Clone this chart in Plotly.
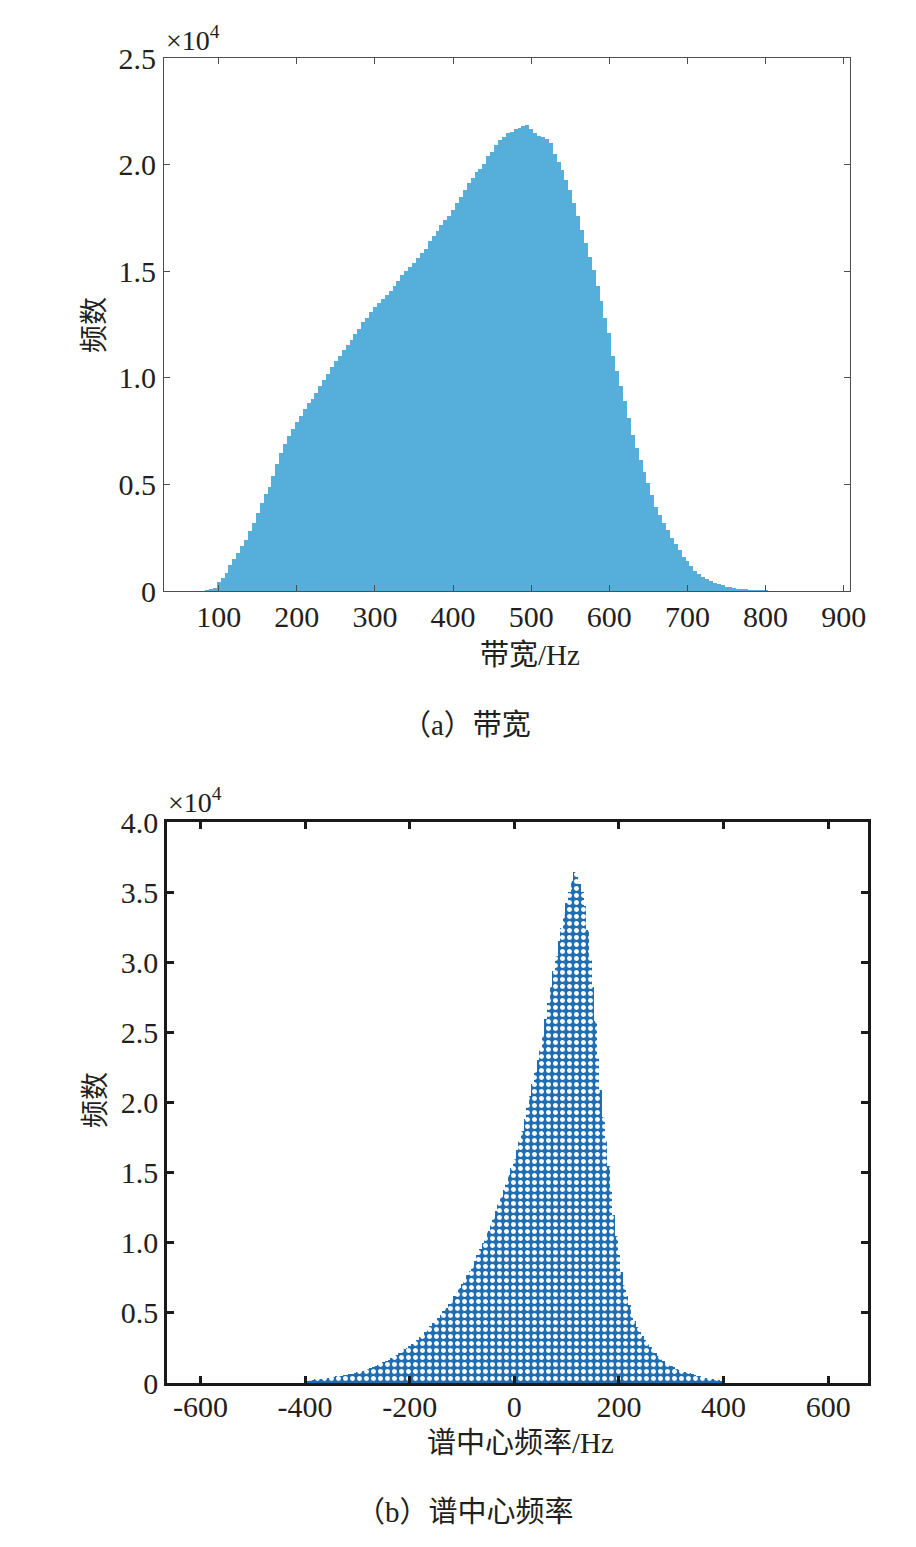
import plotly.graph_objects as go

W, H = 916, 1547
PAGE_PAD = 8  # the page body margin shifts the figure by this much

# (a) 带宽 histogram: bins of 5 Hz, first bin centred at 85 Hz
bw_first_center = 85
bw_bin_width = 5
bw_counts = [
    20, 60, 150, 400, 620, 860, 1200, 1500, 1800, 2100,
    2400, 2800, 3200, 3650, 4150, 4550, 4900, 5400, 5950, 6450,
    6900, 7250, 7600, 7950, 8200, 8550, 8800, 9000, 9300, 9600,
    9900, 10200, 10500, 10800, 11000, 11300, 11550, 11750, 12050, 12300,
    12600, 12800, 13100, 13300, 13500, 13700, 13900, 14050, 14300, 14550,
    14800, 15000, 15200, 15400, 15600, 15850, 16050, 16400, 16650, 16900,
    17150, 17400, 17600, 17850, 18200, 18500, 18800, 19150, 19350, 19650,
    19800, 20050, 20400, 20600, 20900, 21150, 21300, 21500, 21550, 21650,
    21700, 21800, 21850, 21650, 21500, 21350, 21300, 21200, 21000, 20500,
    20100, 19750, 19300, 18800, 18200, 17600, 16950, 16300, 15650, 15050,
    14300, 13600, 12800, 12100, 11000, 10300, 9600, 8900, 8100, 7300,
    6700, 6150, 5600, 5050, 4500, 3950, 3550, 3200, 2850, 2500,
    2200, 1900, 1600, 1400, 1150, 950, 800, 650, 560, 470,
    390, 330, 270, 210, 170, 140, 110, 80, 60, 40,
    30, 20, 10, 5,
]

# (b) 谱中心频率 histogram: bins of 5 Hz, first bin centred at -400 Hz
sc_first_center = -400
sc_bin_width = 5
sc_counts = [
    120, 160, 190, 230, 250, 280, 300, 330, 360, 390,
    410, 440, 470, 500, 530, 560, 590, 620, 660, 700,
    750, 800, 860, 920, 990, 1060, 1130, 1200, 1290, 1380,
    1470, 1560, 1670, 1780, 1900, 2020, 2150, 2280, 2400, 2520,
    2650, 2780, 2940, 3100, 3270, 3450, 3650, 3850, 4050, 4250,
    4450, 4650, 4870, 5100, 5370, 5650, 5920, 6200, 6470, 6750,
    7050, 7350, 7670, 8000, 8350, 8700, 9120, 9550, 9970, 10400,
    10850, 11300, 11770, 12250, 12750, 13250, 13770, 14300, 14820, 15350,
    15950, 16600, 17300, 18000, 18800, 19650, 20450, 21300, 22150, 23000,
    23900, 24800, 25950, 27100, 28250, 29400, 30450, 31500, 32450, 33400,
    34200, 35000, 35800, 36400, 36100, 35600, 35000, 34000, 32300, 30300,
    28200, 25800, 23200, 20900, 19000, 17300, 15500, 13700, 12000, 10500,
    9100, 7900, 7000, 6200, 5550, 4950, 4450, 4000, 3650, 3350,
    3050, 2800, 2570, 2350, 2150, 1950, 1770, 1600, 1450, 1320,
    1220, 1120, 1030, 950, 870, 800, 740, 680, 630, 580,
    530, 480, 430, 390, 350, 310, 270, 230, 190, 150,
]

bw_ticks = [100, 200, 300, 400, 500, 600, 700, 800, 900]
sc_ticks = [-600, -400, -200, 0, 200, 400, 600]
sc_ticklabels = ["-600", "-400", "-200", "0", "200", "400", "600"]
bw_yticks = [0, 5000, 10000, 15000, 20000, 25000]
bw_yticklabels = ["0", "0.5", "1.0", "1.5", "2.0", "2.5"]
sc_yticks = [0, 5000, 10000, 15000, 20000, 25000, 30000, 35000, 40000]
sc_yticklabels = ["0", "0.5", "1.0", "1.5", "2.0", "2.5", "3.0", "3.5", "4.0"]

bw_x = [bw_first_center + bw_bin_width * i for i in range(len(bw_counts))]
sc_x = [sc_first_center + sc_bin_width * i for i in range(len(sc_counts))]

FONT = "Liberation Serif, Times New Roman, Noto Sans CJK SC, serif"
TXT = "#231f20"


def px_x(px):
    return (px - PAGE_PAD) / W


def px_y(px):
    return 1 - (px - PAGE_PAD) / H


fig = go.Figure()
fig.add_trace(go.Bar(
    x=bw_x, y=bw_counts, width=bw_bin_width,
    marker=dict(color="#56aedb", line=dict(width=0)),
    xaxis="x", yaxis="y", showlegend=False,
))
fig.add_trace(go.Bar(
    x=sc_x, y=sc_counts, width=sc_bin_width,
    marker=dict(
        color="#1f6db3", line=dict(width=0),
        pattern=dict(shape=".", fgcolor="white", bgcolor="#1f6db3",
                     size=7, solidity=0.4, fillmode="replace"),
    ),
    xaxis="x2", yaxis="y2", showlegend=False,
))

thin = dict(showline=True, linecolor="#4d4d4d", linewidth=1, mirror="ticks",
            ticks="inside", ticklen=6, tickcolor="#4d4d4d", tickwidth=1,
            showgrid=False, zeroline=False, automargin=False,
            tickfont=dict(family=FONT, size=30, color=TXT))
thick = dict(showline=True, linecolor="#1a1a1a", linewidth=2.5, mirror="ticks",
             ticks="inside", ticklen=7, tickcolor="#1a1a1a", tickwidth=2.5,
             showgrid=False, zeroline=False, automargin=False,
             tickfont=dict(family=FONT, size=30, color=TXT))

fig.update_layout(
    width=W, height=H,
    margin=dict(l=0, r=0, t=0, b=0, autoexpand=False),
    paper_bgcolor="white", plot_bgcolor="white",
    bargap=0,
    xaxis=dict(thin, domain=[px_x(164), px_x(850)], range=[30, 908],
               tickvals=bw_ticks, anchor="y", ticklabelstandoff=-1),
    yaxis=dict(thin, domain=[px_y(591), px_y(58)], range=[0, 25000],
               tickvals=bw_yticks, ticktext=bw_yticklabels, anchor="x",
               ticklabelstandoff=1),
    xaxis2=dict(thick, domain=[px_x(167), px_x(868)], range=[-664, 676],
                tickvals=sc_ticks, ticktext=sc_ticklabels, anchor="y2",
                ticklabelstandoff=-5),
    yaxis2=dict(thick, domain=[px_y(1383), px_y(822)], range=[0, 40000],
                tickvals=sc_yticks, ticktext=sc_yticklabels, anchor="x2",
                ticklabelstandoff=0),
)

notes = [
    ("×10<sup>4</sup>", 193, 38, 28, 0),
    ("×10<sup>4</sup>", 195, 801, 28, 0),
    ("频数", 95, 325, 28, -90),
    ("频数", 95, 1100, 28, -90),
    ("带宽/Hz", 530, 655, 29, 0),
    ("谱中心频率/Hz", 520, 1443, 29, 0),
    ("（a）带宽", 466, 725, 29, 0),
    ("（b）谱中心频率", 465, 1512, 29, 0),
]
for text, x, y, size, angle in notes:
    fig.add_annotation(
        text=text, x=px_x(x), y=px_y(y), xref="paper", yref="paper",
        showarrow=False, textangle=angle, xanchor="center", yanchor="middle",
        font=dict(family=FONT, size=size, color=TXT),
    )

fig.write_html("out.html")
